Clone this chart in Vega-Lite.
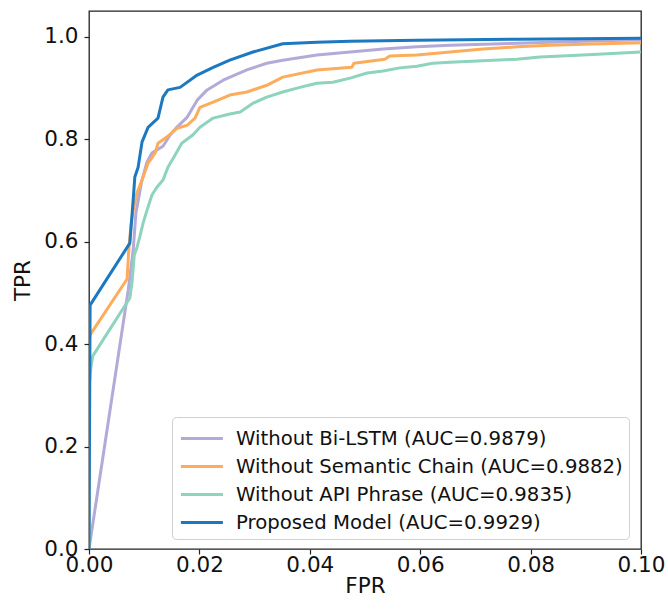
{
  "$schema": "https://vega.github.io/schema/vega-lite/v6.json",
  "autosize": "none",
  "width": 552,
  "height": 538,
  "padding": {"left": 89, "top": 11, "right": 27, "bottom": 60},
  "background": "white",
  "config": {
    "font": "DejaVu Sans",
    "view": {"stroke": "#222", "strokeWidth": 1.3},
    "axis": {"grid": false, "domain": false, "tickColor": "#222", "tickSize": 5, "tickWidth": 1.2, "labelFontSize": 21.5, "labelColor": "#111", "titleFontSize": 21.5, "titleFontWeight": "normal", "titleColor": "#111", "labelFont": "DejaVu Sans", "titleFont": "DejaVu Sans"}
  },
  "data": {"values": [
    {"model": "Without Bi-LSTM (AUC=0.9879)", "fpr": 0, "tpr": 0},
    {"model": "Without Bi-LSTM (AUC=0.9879)", "fpr": 0.0071, "tpr": 0.505},
    {"model": "Without Bi-LSTM (AUC=0.9879)", "fpr": 0.0080, "tpr": 0.583},
    {"model": "Without Bi-LSTM (AUC=0.9879)", "fpr": 0.0085, "tpr": 0.656},
    {"model": "Without Bi-LSTM (AUC=0.9879)", "fpr": 0.0091, "tpr": 0.691},
    {"model": "Without Bi-LSTM (AUC=0.9879)", "fpr": 0.0096, "tpr": 0.720},
    {"model": "Without Bi-LSTM (AUC=0.9879)", "fpr": 0.0105, "tpr": 0.755},
    {"model": "Without Bi-LSTM (AUC=0.9879)", "fpr": 0.0114, "tpr": 0.773},
    {"model": "Without Bi-LSTM (AUC=0.9879)", "fpr": 0.0123, "tpr": 0.779},
    {"model": "Without Bi-LSTM (AUC=0.9879)", "fpr": 0.0134, "tpr": 0.786},
    {"model": "Without Bi-LSTM (AUC=0.9879)", "fpr": 0.0147, "tpr": 0.808},
    {"model": "Without Bi-LSTM (AUC=0.9879)", "fpr": 0.0159, "tpr": 0.823},
    {"model": "Without Bi-LSTM (AUC=0.9879)", "fpr": 0.0178, "tpr": 0.843},
    {"model": "Without Bi-LSTM (AUC=0.9879)", "fpr": 0.0196, "tpr": 0.876},
    {"model": "Without Bi-LSTM (AUC=0.9879)", "fpr": 0.0214, "tpr": 0.896},
    {"model": "Without Bi-LSTM (AUC=0.9879)", "fpr": 0.0243, "tpr": 0.915},
    {"model": "Without Bi-LSTM (AUC=0.9879)", "fpr": 0.0286, "tpr": 0.935},
    {"model": "Without Bi-LSTM (AUC=0.9879)", "fpr": 0.0322, "tpr": 0.948},
    {"model": "Without Bi-LSTM (AUC=0.9879)", "fpr": 0.0351, "tpr": 0.954},
    {"model": "Without Bi-LSTM (AUC=0.9879)", "fpr": 0.0413, "tpr": 0.964},
    {"model": "Without Bi-LSTM (AUC=0.9879)", "fpr": 0.0473, "tpr": 0.970},
    {"model": "Without Bi-LSTM (AUC=0.9879)", "fpr": 0.0533, "tpr": 0.976},
    {"model": "Without Bi-LSTM (AUC=0.9879)", "fpr": 0.0594, "tpr": 0.980},
    {"model": "Without Bi-LSTM (AUC=0.9879)", "fpr": 0.0654, "tpr": 0.983},
    {"model": "Without Bi-LSTM (AUC=0.9879)", "fpr": 0.0775, "tpr": 0.987},
    {"model": "Without Bi-LSTM (AUC=0.9879)", "fpr": 0.0895, "tpr": 0.991},
    {"model": "Without Bi-LSTM (AUC=0.9879)", "fpr": 0.1, "tpr": 0.994},

    {"model": "Without Semantic Chain (AUC=0.9882)", "fpr": 0, "tpr": 0},
    {"model": "Without Semantic Chain (AUC=0.9882)", "fpr": 0, "tpr": 0.408},
    {"model": "Without Semantic Chain (AUC=0.9882)", "fpr": 0.0002, "tpr": 0.418},
    {"model": "Without Semantic Chain (AUC=0.9882)", "fpr": 0.0069, "tpr": 0.527},
    {"model": "Without Semantic Chain (AUC=0.9882)", "fpr": 0.0072, "tpr": 0.583},
    {"model": "Without Semantic Chain (AUC=0.9882)", "fpr": 0.0076, "tpr": 0.632},
    {"model": "Without Semantic Chain (AUC=0.9882)", "fpr": 0.0080, "tpr": 0.661},
    {"model": "Without Semantic Chain (AUC=0.9882)", "fpr": 0.0087, "tpr": 0.695},
    {"model": "Without Semantic Chain (AUC=0.9882)", "fpr": 0.0096, "tpr": 0.720},
    {"model": "Without Semantic Chain (AUC=0.9882)", "fpr": 0.0107, "tpr": 0.753},
    {"model": "Without Semantic Chain (AUC=0.9882)", "fpr": 0.0120, "tpr": 0.773},
    {"model": "Without Semantic Chain (AUC=0.9882)", "fpr": 0.0125, "tpr": 0.792},
    {"model": "Without Semantic Chain (AUC=0.9882)", "fpr": 0.0141, "tpr": 0.804},
    {"model": "Without Semantic Chain (AUC=0.9882)", "fpr": 0.0159, "tpr": 0.821},
    {"model": "Without Semantic Chain (AUC=0.9882)", "fpr": 0.0178, "tpr": 0.827},
    {"model": "Without Semantic Chain (AUC=0.9882)", "fpr": 0.0192, "tpr": 0.841},
    {"model": "Without Semantic Chain (AUC=0.9882)", "fpr": 0.0201, "tpr": 0.862},
    {"model": "Without Semantic Chain (AUC=0.9882)", "fpr": 0.0225, "tpr": 0.872},
    {"model": "Without Semantic Chain (AUC=0.9882)", "fpr": 0.0255, "tpr": 0.886},
    {"model": "Without Semantic Chain (AUC=0.9882)", "fpr": 0.0286, "tpr": 0.892},
    {"model": "Without Semantic Chain (AUC=0.9882)", "fpr": 0.0322, "tpr": 0.905},
    {"model": "Without Semantic Chain (AUC=0.9882)", "fpr": 0.0351, "tpr": 0.921},
    {"model": "Without Semantic Chain (AUC=0.9882)", "fpr": 0.0413, "tpr": 0.935},
    {"model": "Without Semantic Chain (AUC=0.9882)", "fpr": 0.0476, "tpr": 0.940},
    {"model": "Without Semantic Chain (AUC=0.9882)", "fpr": 0.0480, "tpr": 0.948},
    {"model": "Without Semantic Chain (AUC=0.9882)", "fpr": 0.0536, "tpr": 0.956},
    {"model": "Without Semantic Chain (AUC=0.9882)", "fpr": 0.0545, "tpr": 0.962},
    {"model": "Without Semantic Chain (AUC=0.9882)", "fpr": 0.0594, "tpr": 0.964},
    {"model": "Without Semantic Chain (AUC=0.9882)", "fpr": 0.0654, "tpr": 0.970},
    {"model": "Without Semantic Chain (AUC=0.9882)", "fpr": 0.0714, "tpr": 0.976},
    {"model": "Without Semantic Chain (AUC=0.9882)", "fpr": 0.0775, "tpr": 0.980},
    {"model": "Without Semantic Chain (AUC=0.9882)", "fpr": 0.0835, "tpr": 0.983},
    {"model": "Without Semantic Chain (AUC=0.9882)", "fpr": 0.0895, "tpr": 0.985},
    {"model": "Without Semantic Chain (AUC=0.9882)", "fpr": 0.1, "tpr": 0.988},

    {"model": "Without API Phrase (AUC=0.9835)", "fpr": 0, "tpr": 0},
    {"model": "Without API Phrase (AUC=0.9835)", "fpr": 0, "tpr": 0.31},
    {"model": "Without API Phrase (AUC=0.9835)", "fpr": 0.0002, "tpr": 0.34},
    {"model": "Without API Phrase (AUC=0.9835)", "fpr": 0.0004, "tpr": 0.359},
    {"model": "Without API Phrase (AUC=0.9835)", "fpr": 0.0007, "tpr": 0.377},
    {"model": "Without API Phrase (AUC=0.9835)", "fpr": 0.0074, "tpr": 0.490},
    {"model": "Without API Phrase (AUC=0.9835)", "fpr": 0.0078, "tpr": 0.521},
    {"model": "Without API Phrase (AUC=0.9835)", "fpr": 0.0082, "tpr": 0.574},
    {"model": "Without API Phrase (AUC=0.9835)", "fpr": 0.0087, "tpr": 0.589},
    {"model": "Without API Phrase (AUC=0.9835)", "fpr": 0.0092, "tpr": 0.609},
    {"model": "Without API Phrase (AUC=0.9835)", "fpr": 0.0098, "tpr": 0.636},
    {"model": "Without API Phrase (AUC=0.9835)", "fpr": 0.0105, "tpr": 0.661},
    {"model": "Without API Phrase (AUC=0.9835)", "fpr": 0.0114, "tpr": 0.691},
    {"model": "Without API Phrase (AUC=0.9835)", "fpr": 0.0123, "tpr": 0.706},
    {"model": "Without API Phrase (AUC=0.9835)", "fpr": 0.0134, "tpr": 0.720},
    {"model": "Without API Phrase (AUC=0.9835)", "fpr": 0.0143, "tpr": 0.745},
    {"model": "Without API Phrase (AUC=0.9835)", "fpr": 0.0156, "tpr": 0.769},
    {"model": "Without API Phrase (AUC=0.9835)", "fpr": 0.0168, "tpr": 0.792},
    {"model": "Without API Phrase (AUC=0.9835)", "fpr": 0.0188, "tpr": 0.808},
    {"model": "Without API Phrase (AUC=0.9835)", "fpr": 0.0201, "tpr": 0.823},
    {"model": "Without API Phrase (AUC=0.9835)", "fpr": 0.0225, "tpr": 0.841},
    {"model": "Without API Phrase (AUC=0.9835)", "fpr": 0.0255, "tpr": 0.849},
    {"model": "Without API Phrase (AUC=0.9835)", "fpr": 0.0274, "tpr": 0.853},
    {"model": "Without API Phrase (AUC=0.9835)", "fpr": 0.0297, "tpr": 0.870},
    {"model": "Without API Phrase (AUC=0.9835)", "fpr": 0.0322, "tpr": 0.882},
    {"model": "Without API Phrase (AUC=0.9835)", "fpr": 0.0351, "tpr": 0.892},
    {"model": "Without API Phrase (AUC=0.9835)", "fpr": 0.0382, "tpr": 0.901},
    {"model": "Without API Phrase (AUC=0.9835)", "fpr": 0.0413, "tpr": 0.909},
    {"model": "Without API Phrase (AUC=0.9835)", "fpr": 0.0442, "tpr": 0.911},
    {"model": "Without API Phrase (AUC=0.9835)", "fpr": 0.0473, "tpr": 0.919},
    {"model": "Without API Phrase (AUC=0.9835)", "fpr": 0.0504, "tpr": 0.929},
    {"model": "Without API Phrase (AUC=0.9835)", "fpr": 0.0533, "tpr": 0.933},
    {"model": "Without API Phrase (AUC=0.9835)", "fpr": 0.0563, "tpr": 0.939},
    {"model": "Without API Phrase (AUC=0.9835)", "fpr": 0.0594, "tpr": 0.942},
    {"model": "Without API Phrase (AUC=0.9835)", "fpr": 0.0623, "tpr": 0.948},
    {"model": "Without API Phrase (AUC=0.9835)", "fpr": 0.0654, "tpr": 0.950},
    {"model": "Without API Phrase (AUC=0.9835)", "fpr": 0.0775, "tpr": 0.956},
    {"model": "Without API Phrase (AUC=0.9835)", "fpr": 0.0817, "tpr": 0.960},
    {"model": "Without API Phrase (AUC=0.9835)", "fpr": 0.0895, "tpr": 0.964},
    {"model": "Without API Phrase (AUC=0.9835)", "fpr": 0.1, "tpr": 0.970},

    {"model": "Proposed Model (AUC=0.9929)", "fpr": 0, "tpr": 0},
    {"model": "Proposed Model (AUC=0.9929)", "fpr": 0.0002, "tpr": 0.476},
    {"model": "Proposed Model (AUC=0.9929)", "fpr": 0.0074, "tpr": 0.597},
    {"model": "Proposed Model (AUC=0.9929)", "fpr": 0.0080, "tpr": 0.681},
    {"model": "Proposed Model (AUC=0.9929)", "fpr": 0.0083, "tpr": 0.726},
    {"model": "Proposed Model (AUC=0.9929)", "fpr": 0.0089, "tpr": 0.745},
    {"model": "Proposed Model (AUC=0.9929)", "fpr": 0.0096, "tpr": 0.794},
    {"model": "Proposed Model (AUC=0.9929)", "fpr": 0.0107, "tpr": 0.823},
    {"model": "Proposed Model (AUC=0.9929)", "fpr": 0.0125, "tpr": 0.841},
    {"model": "Proposed Model (AUC=0.9929)", "fpr": 0.0134, "tpr": 0.882},
    {"model": "Proposed Model (AUC=0.9929)", "fpr": 0.0143, "tpr": 0.896},
    {"model": "Proposed Model (AUC=0.9929)", "fpr": 0.0165, "tpr": 0.901},
    {"model": "Proposed Model (AUC=0.9929)", "fpr": 0.0196, "tpr": 0.925},
    {"model": "Proposed Model (AUC=0.9929)", "fpr": 0.0225, "tpr": 0.940},
    {"model": "Proposed Model (AUC=0.9929)", "fpr": 0.0255, "tpr": 0.954},
    {"model": "Proposed Model (AUC=0.9929)", "fpr": 0.0297, "tpr": 0.970},
    {"model": "Proposed Model (AUC=0.9929)", "fpr": 0.0351, "tpr": 0.986},
    {"model": "Proposed Model (AUC=0.9929)", "fpr": 0.0413, "tpr": 0.989},
    {"model": "Proposed Model (AUC=0.9929)", "fpr": 0.0473, "tpr": 0.991},
    {"model": "Proposed Model (AUC=0.9929)", "fpr": 0.0594, "tpr": 0.993},
    {"model": "Proposed Model (AUC=0.9929)", "fpr": 0.0775, "tpr": 0.995},
    {"model": "Proposed Model (AUC=0.9929)", "fpr": 0.1, "tpr": 0.997}
  ]},
  "encoding": {
    "x": {"field": "fpr", "type": "quantitative", "title": "FPR",
      "scale": {"domain": [0, 0.1], "nice": false, "zero": false},
      "axis": {"values": [0, 0.02, 0.04, 0.06, 0.08, 0.1], "format": ".2f", "labelPadding": 0, "titlePadding": 0, "labelFlush": false}},
    "y": {"field": "tpr", "type": "quantitative", "title": "TPR",
      "scale": {"domain": [0, 1.05], "nice": false},
      "axis": {"values": [0, 0.2, 0.4, 0.6, 0.8, 1.0], "format": ".1f", "labelPadding": 6, "titlePadding": 9, "labelFlush": false}},
    "color": {"field": "model", "type": "nominal",
      "scale": {"domain": ["Without Bi-LSTM (AUC=0.9879)", "Without Semantic Chain (AUC=0.9882)", "Without API Phrase (AUC=0.9835)", "Proposed Model (AUC=0.9929)"],
                "range": ["#b3aad9", "#fdac5c", "#8dd3bd", "#1c79c0"]},
      "legend": {"title": null, "orient": "none", "legendX": 83, "legendY": 406,
        "symbolType": "M-0.9,0H2.1", "symbolSize": 784, "symbolStrokeWidth": 3, "symbolFillColor": "transparent",
        "labelFontSize": 19.7, "labelFont": "DejaVu Sans", "labelColor": "#111",
        "labelLimit": 500, "rowPadding": 2, "padding": 6, "strokeColor": "#d0d0d0", "fillColor": "white", "cornerRadius": 4, "labelOffset": 27}}
  },
  "layer": [
    {"transform": [{"filter": "datum.model !== 'Proposed Model (AUC=0.9929)'"}],
     "mark": {"type": "line", "strokeWidth": 3, "clip": true, "strokeJoin": "round"}},
    {"transform": [{"filter": "datum.model === 'Proposed Model (AUC=0.9929)'"}],
     "mark": {"type": "line", "strokeWidth": 3, "clip": true, "strokeJoin": "round"}}
  ]
}
